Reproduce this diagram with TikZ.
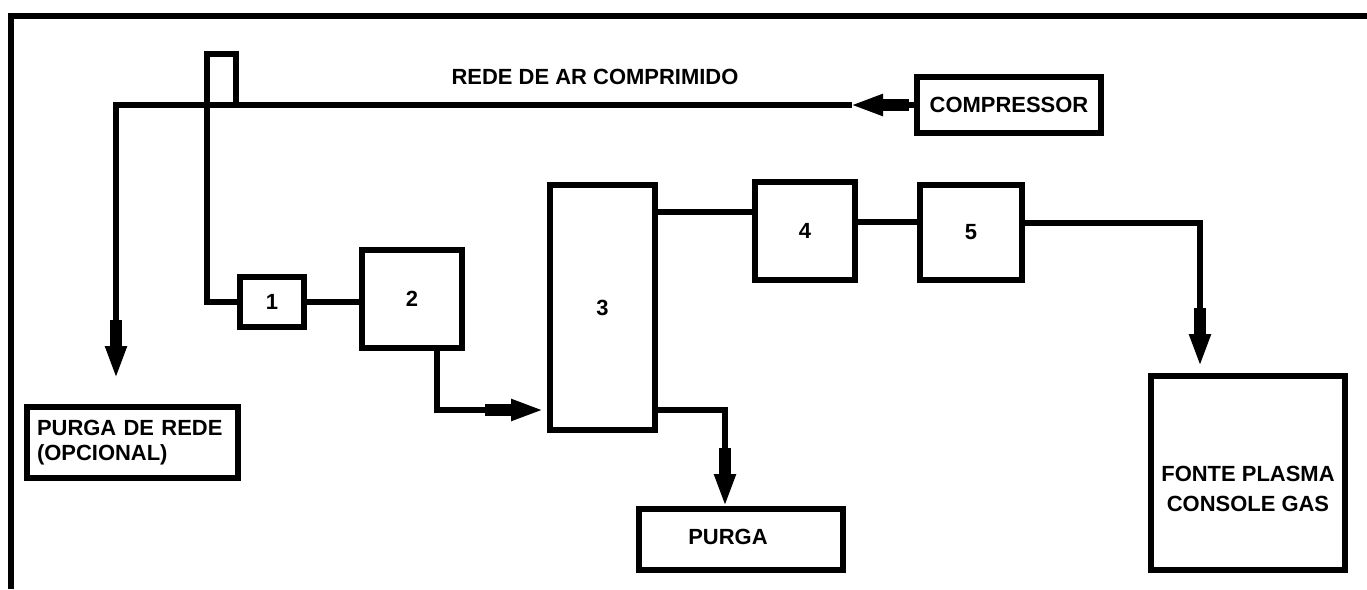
\documentclass[tikz,border=0pt]{standalone}
\usepackage{fontspec}
\setmainfont{Liberation Sans}
\usetikzlibrary{arrows.meta}

\begin{document}
\begin{tikzpicture}[x=0.02cm,y=-0.02cm,line width=0.11cm,
  box/.style={draw,inner sep=0pt,font=\bfseries\fontsize{12.5}{14}\selectfont},
  txt/.style={inner sep=0pt,align=center,font=\bfseries\fontsize{12.5}{14}\selectfont},
  flow/.style={-{Rectangle[length=0.52cm,width=0.24cm]Triangle[length=0.62cm,width=0.42cm]}}]
\useasboundingbox (0,0) rectangle (1367,589);
\draw (1367,16) -- (11,16) -- (11,589);
\node[box,minimum width=3.68cm,minimum height=1.12cm] (compressor) at (1009,105) {COMPRESSOR};
\node[box,minimum width=4.22cm,minimum height=1.42cm,text width=3.82cm,inner xsep=0.2cm,align=left] (purgarede) at (132.5,442.5) {PURGA DE REDE\\(OPCIONAL)};
\node[box,minimum width=1.28cm,minimum height=1cm] (b1) at (272,302) {1};
\node[box,minimum width=2cm,minimum height=1.96cm] (b2) at (412,299) {2};
\node[box,minimum width=2.1cm,minimum height=4.9cm] (b3) at (602.5,307.5) {3};
\node[box,minimum width=2cm,minimum height=1.96cm] (b4) at (805,231) {4};
\node[box,minimum width=2.04cm,minimum height=1.9cm] (b5) at (971,232.5) {5};
\node[box,minimum width=3.88cm,minimum height=3.88cm] (fonte) at (1248,473) {};
\node[txt,font=\bfseries\fontsize{12.5}{17}\selectfont] (fontetxt) at ([shift={(0,16)}]fonte.center) {FONTE PLASMA\\CONSOLE GAS};
\node[box,minimum width=4.08cm,minimum height=1.22cm] (purga) at (741,539.5) {};
\node[txt] (purgatxt) at ([shift={(-13,-3)}]purga.center) {PURGA};
\node[txt] (rede) at (595,77) {REDE DE AR COMPRIMIDO};
\coordinate (cmp) at (852,105);
\coordinate (prtip) at (116,377);
\coordinate (loopa) at (207,54);
\coordinate (loopb) at (236,105);
\coordinate (t3) at (542,410);
\coordinate (ftip) at (1200,365);
\coordinate (ptip) at (725,505);
\draw[flow] (compressor.west) -- (cmp);
\draw[flow] (cmp) -| (prtip);
\draw (b1.west) -| (loopa) -| (loopb);
\draw (b1.east) -- (b1.east -| b2.west);
\draw[flow] ([xshift=0.5cm]b2.south) |- (t3);
\draw ([yshift=0.38cm]b4.west) -- ([yshift=0.38cm]b4.west -| b3.east);
\draw ([yshift=0.18cm]b4.east) -- ([yshift=0.18cm]b4.east -| b5.west);
\draw[flow] ([yshift=0.19cm]b5.east) -| (ftip);
\draw[flow] ([yshift=-2.05cm]b3.east) -| (ptip);
\end{tikzpicture}
\end{document}
